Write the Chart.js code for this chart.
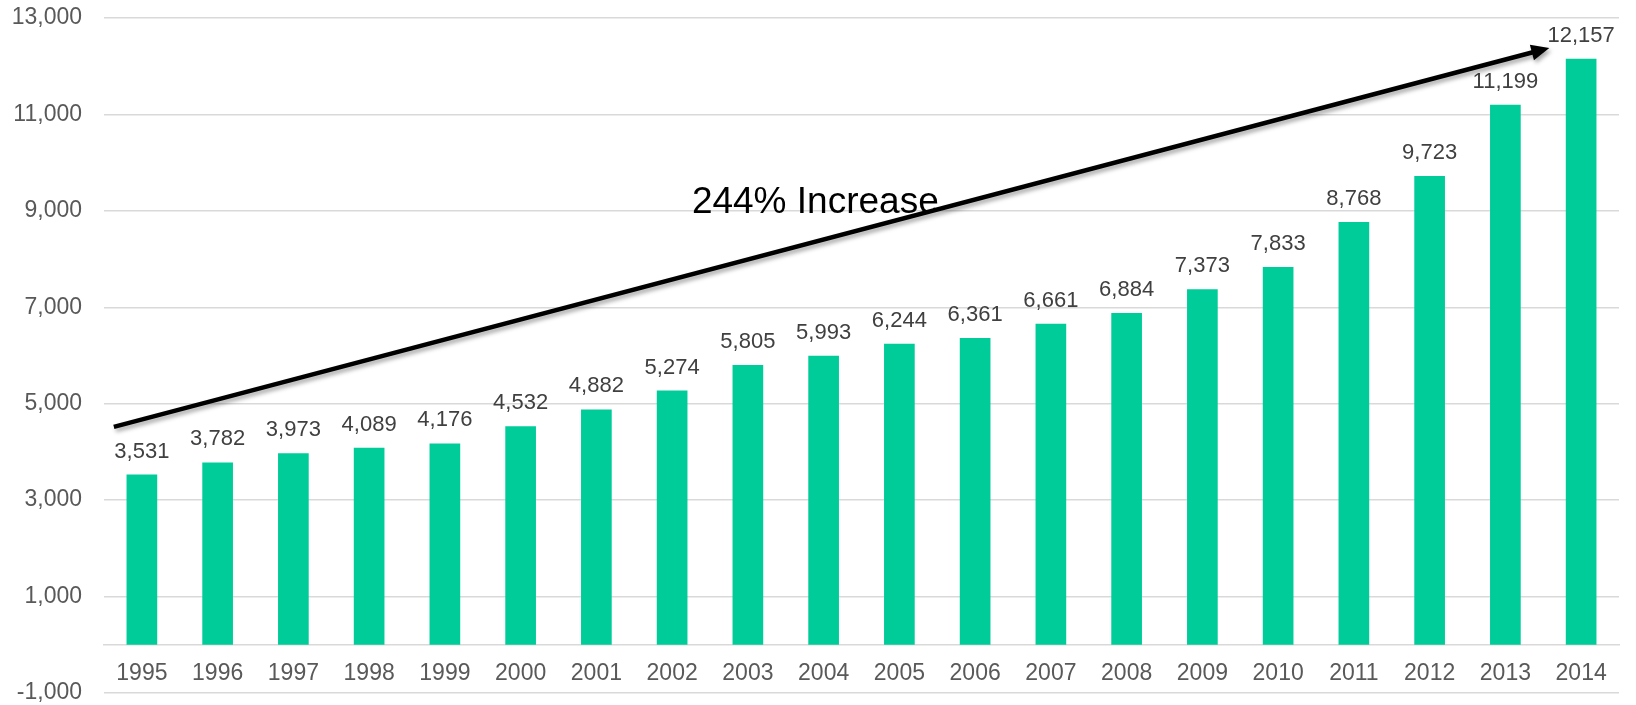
<!DOCTYPE html>
<html>
<head>
<meta charset="utf-8">
<script src="https://cdn.jsdelivr.net/npm/chart.js@4/dist/chart.umd.min.js"></script>
<style>
  html, body { margin: 0; padding: 0; background: #fff; }
  #wrap { width: 1636px; height: 705px; position: relative; }
</style>
</head>
<body>
<div id="wrap"><canvas id="chart"></canvas></div>
<script>
// Chart data
const years = ['1995', '1996', '1997', '1998', '1999', '2000', '2001', '2002', '2003', '2004',
  '2005', '2006', '2007', '2008', '2009', '2010', '2011', '2012', '2013', '2014'];
const values = [3531, 3782, 3973, 4089, 4176, 4532, 4882, 5274, 5805, 5993,
  6244, 6361, 6661, 6884, 7373, 7833, 8768, 9723, 11199, 12157];
const yTicks = [-1000, 1000, 3000, 5000, 7000, 9000, 11000, 13000];

// Trend arrow and its caption, in data units: [category index, value]
const arrowFrom = [-0.37, 4520];
const arrowTo = [18.58, 12380];
const captionAt = [8.89, 8960];
const captionText = '244% Increase';

const fmt = v => v.toLocaleString('en-US');

// Value labels above the bars
const barLabels = {
  id: 'barLabels',
  afterDatasetsDraw(chart) {
    const ctx = chart.ctx;
    const meta = chart.getDatasetMeta(0);
    ctx.save();
    ctx.font = '22px "Liberation Sans", Arial, sans-serif';
    ctx.fillStyle = '#404040';
    ctx.textAlign = 'center';
    ctx.textBaseline = 'alphabetic';
    meta.data.forEach((bar, i) => {
      ctx.fillText(fmt(values[i]), bar.x, bar.y - 17);
    });
    ctx.restore();
  }
};

// Trend arrow with a soft shadow, plus caption
const trendArrow = {
  id: 'trendArrow',
  afterDraw(chart) {
    const { ctx, scales: { x, y } } = chart;
    const x1 = x.getPixelForValue(arrowFrom[0]);
    const y1 = y.getPixelForValue(arrowFrom[1]);
    const x2 = x.getPixelForValue(arrowTo[0]);
    const y2 = y.getPixelForValue(arrowTo[1]);
    const ang = Math.atan2(y2 - y1, x2 - x1);
    const headLen = 18;
    const headHalf = 8;

    ctx.save();
    ctx.shadowColor = 'rgba(0, 0, 0, 0.35)';
    ctx.shadowBlur = 4;
    ctx.shadowOffsetX = 2;
    ctx.shadowOffsetY = 3;

    const bx = x2 - headLen * Math.cos(ang);
    const by = y2 - headLen * Math.sin(ang);
    ctx.strokeStyle = '#000';
    ctx.lineWidth = 4.5;
    ctx.beginPath();
    ctx.moveTo(x1, y1);
    ctx.lineTo(bx + 2 * Math.cos(ang), by + 2 * Math.sin(ang));
    ctx.stroke();

    ctx.fillStyle = '#000';
    ctx.beginPath();
    ctx.moveTo(x2, y2);
    ctx.lineTo(bx - headHalf * Math.sin(ang), by + headHalf * Math.cos(ang));
    ctx.lineTo(bx + headHalf * Math.sin(ang), by - headHalf * Math.cos(ang));
    ctx.closePath();
    ctx.fill();
    ctx.restore();

    ctx.save();
    ctx.font = '37px "Liberation Sans", Arial, sans-serif';
    ctx.fillStyle = '#000';
    ctx.textAlign = 'center';
    ctx.textBaseline = 'alphabetic';
    ctx.fillText(captionText, x.getPixelForValue(captionAt[0]), y.getPixelForValue(captionAt[1]));
    ctx.restore();
  }
};

new Chart(document.getElementById('chart'), {
  type: 'bar',
  data: {
    labels: years,
    datasets: [{
      data: values,
      backgroundColor: '#00CC99',
      borderWidth: 0,
      barPercentage: 0.81,
      categoryPercentage: 0.5
    }]
  },
  options: {
    responsive: true,
    maintainAspectRatio: false,
    animation: false,
    layout: {
      padding: { left: 0, right: 17, top: 18, bottom: 12 }
    },
    plugins: {
      legend: { display: false },
      tooltip: { enabled: false }
    },
    scales: {
      x: {
        position: { y: 0 },
        afterFit: (scale) => { scale.height = 0; },
        grid: { display: false, drawTicks: false },
        border: { display: true, color: '#D9D9D9', width: 1.5 },
        ticks: {
          color: '#595959',
          padding: 15,
          maxRotation: 0,
          autoSkip: false,
          font: { family: '"Liberation Sans", Arial, sans-serif', size: 23 }
        }
      },
      y: {
        min: -1000,
        max: 13000,
        afterFit: (scale) => {
          scale.width = 104;
          // tick padding should not push the plot area down
          scale.paddingTop = 0;
          scale.paddingBottom = 0;
        },
        afterBuildTicks: (scale) => { scale.ticks = yTicks.map(v => ({ value: v })); },
        grid: { color: '#D9D9D9', lineWidth: 1.5, drawTicks: false },
        border: { display: false },
        ticks: {
          color: '#595959',
          padding: 22,
          callback: (v) => fmt(v),
          font: { family: '"Liberation Sans", Arial, sans-serif', size: 23 }
        }
      }
    }
  },
  plugins: [barLabels, trendArrow]
});
</script>
</body>
</html>
